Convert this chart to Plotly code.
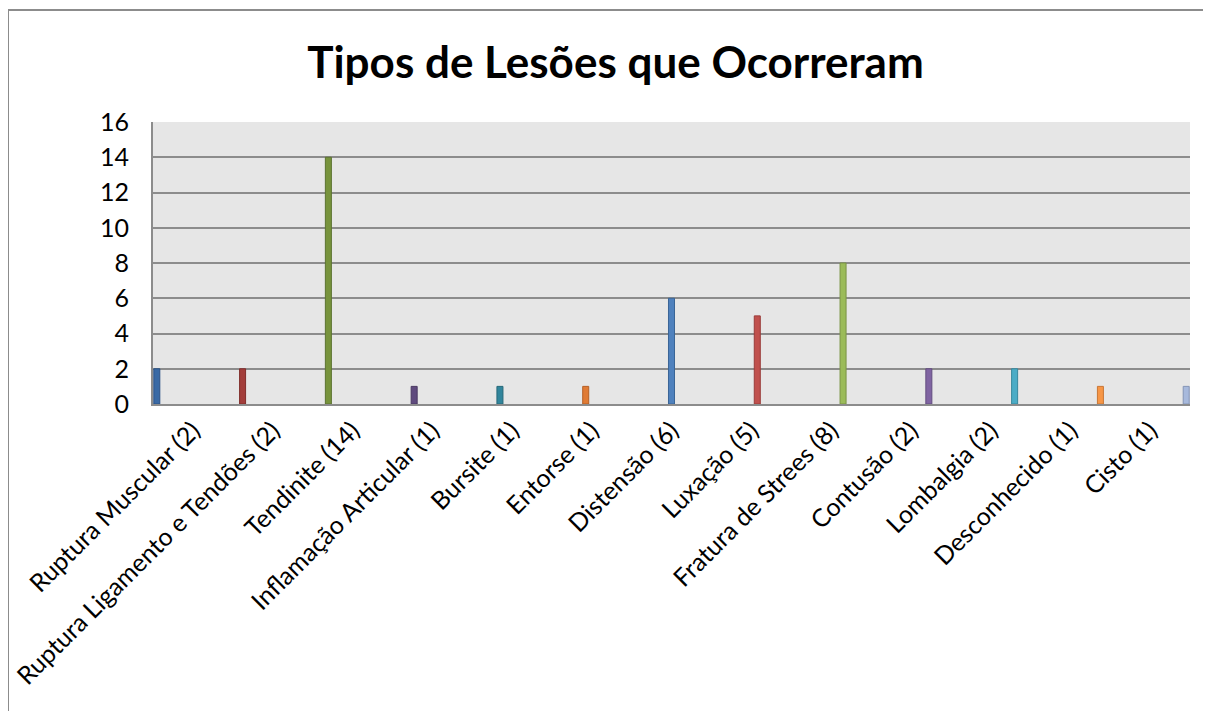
import plotly.graph_objects as go

# dados
categorias = [
    "Ruptura Muscular (2)", "Ruptura Ligamento e Tendões (2)", "Tendinite (14)",
    "Inflamação Articular (1)", "Bursite (1)", "Entorse (1)", "Distensão (6)",
    "Luxação (5)", "Fratura de Strees (8)", "Contusão (2)", "Lombalgia (2)",
    "Desconhecido (1)", "Cisto (1)",
]
valores = [2, 2, 14, 1, 1, 1, 6, 5, 8, 2, 2, 1, 1]
cores = [
    "#3A6AA5", "#A33E3B", "#77933C", "#5F4A7E", "#31859C", "#E07B35",
    "#4F81BD", "#C0504D", "#9BBB59", "#8064A2", "#4BACC6", "#F79646", "#A7B9DC",
]
bordas = [
    "#2B5285", "#802E2C", "#5C7330", "#4A3962", "#256878", "#B55F25",
    "#3A6596", "#9A3B39", "#7A9445", "#634D80", "#37879C", "#C97635", "#8494B5",
]

# a página tem 8px de margem no body
W, H = 1203, 703
L, R, T, B = 145, 21, 114, 307
pw, ph = W - L - R, H - T - B

fig = go.Figure()
for i, cat in enumerate(categorias):
    y = [valores[i] if j == i else None for j in range(len(categorias))]
    fig.add_trace(go.Bar(
        x=categorias, y=y, name=cat,
        marker=dict(color=cores[i], line=dict(color=bordas[i], width=1)),
        showlegend=False,
    ))


def px_x(p):
    return (p - L) / pw


def px_y(p):
    return (H - B - p) / ph


# moldura externa (esquerda e topo)
frame = dict(type="line", xref="paper", yref="paper", line=dict(color="#8C8C8C", width=2))
fig.add_shape(**frame, x0=px_x(0), x1=px_x(0), y0=px_y(2), y1=px_y(H))
fig.add_shape(**frame, x0=px_x(0), x1=px_x(W), y0=px_y(2), y1=px_y(2))

fig.update_layout(
    width=W, height=H,
    margin=dict(l=L, r=R, t=T, b=B, autoexpand=False),
    barmode="group", bargap=0.02, bargroupgap=0,
    title=dict(text="<b>Tipos de Lesões que Ocorreram</b>", x=0.505, xanchor="center",
               y=1 - 55 / H, yanchor="middle",
               font=dict(family="Lato, sans-serif", size=44, color="#000")),
    font=dict(family="Lato, sans-serif", size=25, color="#000"),
    plot_bgcolor="#E6E6E6", paper_bgcolor="white",
    xaxis=dict(tickangle=-45, showgrid=False, showline=True, linecolor="#8C8C8C",
               linewidth=2, ticks="", tickfont=dict(size=25), automargin=False),
    yaxis=dict(range=[0, 16], dtick=2, showgrid=True, gridcolor="#8C8C8C", gridwidth=2,
               showline=True, linecolor="#8C8C8C", linewidth=2, zeroline=False,
               ticks="", ticklabelstandoff=17, tickfont=dict(size=25), automargin=False),
)

fig.write_html("out.html")
